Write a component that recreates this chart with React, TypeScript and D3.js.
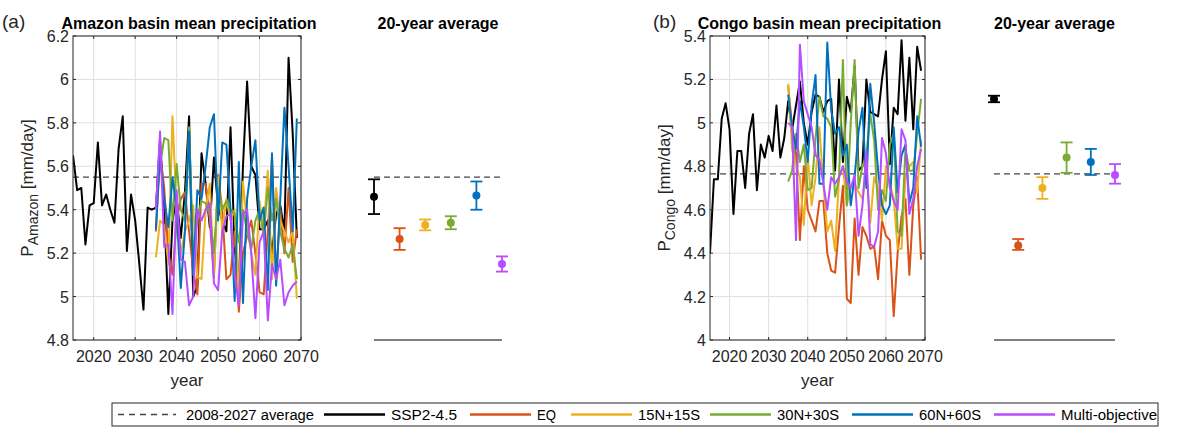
import React from "react";
import * as d3 from "d3";

const W = 1194;
const H = 429;

const colors = ["#000000", "#D95319", "#EDB120", "#77AC30", "#0072BD", "#B84CFF"];
const seriesNames = ["SSP2-4.5", "EQ", "15N+15S", "30N+30S", "60N+60S", "Multi-objective"];

const years = d3.range(2015, 2070);
const futureYears = d3.range(2035, 2070);

// Amazon
const amazonSSP = [5.65, 5.49, 5.5, 5.24, 5.42, 5.43, 5.71, 5.42, 5.47, 5.4, 5.34, 5.68, 5.83, 5.21, 5.47, 5.35, 5.15, 4.94, 5.41, 5.4, 5.41, 5.72, 5.4, 4.92, 5.35, 5.45, 5.27, 5.48, 5.83, 5.0, 5.05, 5.66, 5.52, 5.32, 5.64, 5.41, 5.35, 5.3, 5.78, 5.22, 5.05, 5.6, 5.99, 5.6, 5.56, 5.31, 5.31, 5.35, 5.2, 5.38, 5.42, 5.3, 6.1, 5.75, 5.27];
const amazonEQ = [5.3, 5.67, 5.5, 5.2, 5.1, 5.35, 5.45, 5.48, 5.3, 5.12, 5.01, 5.52, 5.52, 5.35, 5.09, 5.56, 5.4, 5.08, 5.1, 5.3, 4.93, 5.2, 5.28, 5.35, 5.2, 5.02, 5.01, 5.3, 5.64, 5.08, 5.4, 5.2, 5.5, 5.16, 5.31];
const amazon15 = [5.18, 5.35, 5.33, 5.15, 5.83, 5.4, 5.2, 5.3, 5.35, 5.42, 5.09, 5.08, 5.4, 5.52, 5.1, 5.55, 5.3, 5.45, 5.35, 5.4, 5.0, 5.53, 5.33, 5.2, 5.1, 5.44, 5.31, 5.58, 5.08, 5.5, 5.35, 5.3, 5.25, 5.3, 4.99];
const amazon30 = [5.42, 5.6, 5.73, 5.72, 5.35, 5.61, 5.4, 5.35, 5.78, 5.2, 5.36, 5.44, 5.43, 5.38, 5.2, 5.5, 5.4, 5.44, 5.4, 5.38, 5.25, 5.4, 5.3, 5.22, 5.35, 5.4, 5.28, 5.5, 5.35, 5.45, 5.3, 5.22, 5.18, 5.24, 5.08];
const amazon60 = [5.31, 5.66, 5.45, 5.32, 5.55, 5.4, 5.04, 5.3, 5.76, 5.1, 5.49, 5.45, 5.6, 5.78, 5.84, 5.35, 5.71, 5.7, 5.4, 4.98, 5.62, 4.97, 5.45, 5.6, 5.72, 5.35, 5.41, 5.03, 5.66, 5.05, 5.45, 5.87, 5.6, 5.3, 5.82];
const amazonMulti = [5.4, 5.76, 5.23, 5.24, 4.92, 5.49, 5.17, 5.16, 4.96, 5.0, 5.4, 5.35, 5.4, 5.43, 5.06, 5.03, 5.3, 5.37, 5.38, 5.1, 4.96, 5.38, 5.4, 5.2, 4.9, 5.25, 5.3, 4.89, 5.15, 5.08, 5.17, 4.96, 5.02, 5.05, 5.07];
const amazonMean = [5.46, 5.265, 5.33, 5.34, 5.465, 5.15];
const amazonLo = [5.38, 5.215, 5.305, 5.31, 5.4, 5.115];
const amazonHi = [5.54, 5.315, 5.355, 5.37, 5.53, 5.185];
const amazonRef = 5.55;

// Congo
const congoSSP = [4.4, 4.74, 4.74, 5.02, 5.09, 4.97, 4.58, 4.87, 4.87, 4.7, 4.95, 5.04, 4.69, 4.9, 4.84, 4.94, 4.87, 5.08, 4.84, 4.93, 5.1, 4.97, 5.08, 5.19, 5.0, 4.9, 5.05, 5.13, 5.12, 5.05, 5.1, 5.11, 4.78, 5.2, 4.82, 5.12, 5.05, 5.26, 4.78, 4.8, 5.2, 5.05, 5.04, 5.03, 5.2, 5.33, 4.81, 5.07, 5.04, 5.38, 5.01, 5.3, 4.97, 5.35, 5.24];
const congoEQ = [5.17, 4.98, 4.86, 4.46, 4.8, 4.6, 4.55, 4.5, 4.64, 4.64, 4.4, 4.32, 4.31, 4.52, 4.71, 4.19, 4.17, 4.56, 4.3, 4.52, 4.48, 4.42, 4.43, 4.28, 4.55, 4.48, 4.46, 4.11, 4.4, 4.57, 4.65, 4.3, 4.62, 4.75, 4.37];
const congo15 = [5.18, 4.88, 4.8, 4.75, 4.53, 4.85, 4.62, 4.75, 4.98, 4.72, 4.5, 4.55, 4.41, 4.75, 4.8, 4.62, 4.7, 4.72, 4.68, 4.65, 4.78, 4.54, 4.75, 4.7, 4.55, 4.8, 4.72, 4.65, 4.42, 4.42, 4.75, 4.8, 4.82, 4.68, 4.92];
const congo30 = [4.73, 4.78, 4.95, 4.82, 4.9, 4.69, 4.7, 4.93, 5.12, 5.03, 5.02, 4.98, 4.66, 4.74, 5.29, 4.62, 5.0, 5.29, 4.7, 4.8, 4.85, 5.04, 4.92, 4.6, 4.69, 4.64, 4.9, 4.95, 4.5, 4.48, 4.88, 4.78, 4.78, 4.95, 5.11];
const congo60 = [5.13, 4.98, 4.88, 5.1, 4.98, 4.82, 5.08, 5.22, 4.72, 4.72, 5.37, 5.06, 4.95, 4.98, 4.85, 4.9, 4.62, 4.75, 4.96, 5.07, 4.7, 5.18, 5.0, 4.78, 4.62, 4.58, 4.62, 4.98, 4.68, 4.85, 4.9, 4.63, 4.7, 5.03, 4.89];
const congoMulti = [5.0, 4.98, 4.46, 5.36, 5.1, 5.04, 4.98, 4.85, 4.83, 4.72, 4.6, 4.75, 4.72, 4.75, 4.8, 4.73, 4.7, 4.76, 4.48, 4.62, 4.87, 4.44, 4.43, 4.5, 4.93, 4.86, 4.7, 4.64, 4.6, 4.97, 4.92, 4.58, 4.65, 4.8, 4.88];
const congoMean = [5.11, 4.435, 4.7, 4.84, 4.82, 4.76];
const congoLo = [5.095, 4.415, 4.65, 4.77, 4.76, 4.72];
const congoHi = [5.125, 4.465, 4.75, 4.91, 4.88, 4.81];
const congoRef = 4.765;

const font = "Helvetica, 'Liberation Sans', Arial, sans-serif";
const tickCol = "#262626";

interface PanelProps {
  letter: string;
  title: string;
  sub: string;
  ssp: number[];
  futures: number[][];
  mean: number[];
  lo: number[];
  hi: number[];
  ref: number;
  yDomain: [number, number];
  yTicks: number[];
  x0: number;
  x1: number;
  ax0: number;
  ax1: number;
  lx: number;
}

const Panel: React.FC<PanelProps> = (p) => {
  const top = 36;
  const bottom = 340;
  const x = d3.scaleLinear().domain([2015, 2070]).range([p.x0, p.x1]);
  const y = d3.scaleLinear().domain(p.yDomain).range([bottom, top]);
  const ax = d3.scaleLinear().domain([0, 5]).range([p.ax0, p.ax1]);
  const line = d3.line<[number, number]>().x((d) => x(d[0])).y((d) => y(d[1]));
  const xTicks = [2020, 2030, 2040, 2050, 2060, 2070];
  const fmt = (v: number) => String(+v.toFixed(1));
  const allSeries = [p.ssp, ...p.futures];
  return (
    <g fontFamily={font}>
      <text x={p.lx} y={28} fontSize={19} fill={tickCol}>{p.letter}</text>
      <text x={(p.x0 + p.x1) / 2 + 2} y={29} fontSize={16} fontWeight="bold" textAnchor="middle" fill="#000">{p.title}</text>
      <text x={(p.ax0 + p.ax1) / 2} y={29} fontSize={16} fontWeight="bold" textAnchor="middle" fill="#000">20-year average</text>
      {xTicks.map((t) => (
        <line key={"gx" + t} x1={x(t)} x2={x(t)} y1={top} y2={bottom} stroke="#dfdfdf" strokeWidth={1} />
      ))}
      {p.yTicks.map((t) => (
        <line key={"gy" + t} x1={p.x0} x2={p.x1} y1={y(t)} y2={y(t)} stroke="#dfdfdf" strokeWidth={1} />
      ))}
      <line x1={p.x0} x2={p.x1} y1={y(p.ref)} y2={y(p.ref)} stroke="#444" strokeWidth={1.3} strokeDasharray="6,4" />
      <clipPath id={"clip" + p.sub}>
        <rect x={p.x0} y={top} width={p.x1 - p.x0} height={bottom - top} />
      </clipPath>
      <g clipPath={`url(#clip${p.sub})`}>
        {allSeries.map((s, i) => {
          const yrs = i === 0 ? years : futureYears;
          return (
            <path key={"s" + i} d={line(s.map((v, k) => [yrs[k], v]))!} fill="none" stroke={colors[i]} strokeWidth={2} strokeLinejoin="round" />
          );
        })}
      </g>
      <rect x={p.x0} y={top} width={p.x1 - p.x0} height={bottom - top} fill="none" stroke={tickCol} strokeWidth={1} />
      {xTicks.map((t) => (
        <g key={"tx" + t}>
          <line x1={x(t)} x2={x(t)} y1={bottom} y2={bottom - 3} stroke={tickCol} />
          <line x1={x(t)} x2={x(t)} y1={top} y2={top + 3} stroke={tickCol} />
          <text x={x(t)} y={bottom + 22} fontSize={16} textAnchor="middle" fill={tickCol}>{t}</text>
        </g>
      ))}
      {p.yTicks.map((t) => (
        <g key={"ty" + t}>
          <line x1={p.x0} x2={p.x0 + 3} y1={y(t)} y2={y(t)} stroke={tickCol} />
          <line x1={p.x1} x2={p.x1 - 3} y1={y(t)} y2={y(t)} stroke={tickCol} />
          <text x={p.x0 - 4} y={y(t) + 6} fontSize={16} textAnchor="end" fill={tickCol}>{fmt(t)}</text>
        </g>
      ))}
      <text x={(p.x0 + p.x1) / 2} y={bottom + 46} fontSize={17} textAnchor="middle" fill={tickCol}>year</text>
      <text transform={`translate(${p.x0 - 40},${(top + bottom) / 2}) rotate(-90)`} fontSize={17} textAnchor="middle" fill={tickCol}>
        P<tspan fontSize={14} dy={5}>{p.sub}</tspan><tspan dy={-5}> [mm/day]</tspan>
      </text>
      <line x1={p.ax0} x2={p.ax1} y1={bottom} y2={bottom} stroke="#000" strokeWidth={1} />
      <line x1={p.ax0} x2={p.ax1} y1={y(p.ref)} y2={y(p.ref)} stroke="#444" strokeWidth={1.3} strokeDasharray="6,4" />
      {p.mean.map((m, i) => (
        <g key={"a" + i} stroke={colors[i]} strokeWidth={1.8}>
          <line x1={ax(i)} x2={ax(i)} y1={y(p.lo[i])} y2={y(p.hi[i])} />
          <line x1={ax(i) - 6} x2={ax(i) + 6} y1={y(p.lo[i])} y2={y(p.lo[i])} />
          <line x1={ax(i) - 6} x2={ax(i) + 6} y1={y(p.hi[i])} y2={y(p.hi[i])} />
          <circle cx={ax(i)} cy={y(m)} r={4} fill={colors[i]} stroke="none" />
        </g>
      ))}
    </g>
  );
};

// legend: line start and text width per series
const legendX = [324, 470, 571, 710, 852, 994];
const legendW = [66, 19, 62, 62, 62, 96];

const App: React.FC = () => (
  <svg width={W} height={H} style={{ position: "absolute", left: 0, top: 0 }}>
    <rect width={W} height={H} fill="#fff" />
    <Panel letter="(a)" title="Amazon basin mean precipitation" sub="Amazon" ssp={amazonSSP}
      futures={[amazonEQ, amazon15, amazon30, amazon60, amazonMulti]} mean={amazonMean} lo={amazonLo} hi={amazonHi}
      ref={amazonRef} yDomain={[4.8, 6.2]} yTicks={d3.range(4.8, 6.21, 0.2)} x0={73} x1={301} ax0={374} ax1={502} lx={2} />
    <Panel letter="(b)" title="Congo basin mean precipitation" sub="Congo" ssp={congoSSP}
      futures={[congoEQ, congo15, congo30, congo60, congoMulti]} mean={congoMean} lo={congoLo} hi={congoHi}
      ref={congoRef} yDomain={[4, 5.4]} yTicks={d3.range(4, 5.41, 0.2)} x0={710} x1={925} ax0={994} ax1={1115} lx={653} />
    <g fontFamily={font} fontSize={14} fill="#000">
      <rect x={112} y={403} width={1046} height={23} fill="#fff" stroke="#262626" strokeWidth={1} />
      <line x1={118} x2={176} y1={414.5} y2={414.5} stroke="#444" strokeWidth={1.3} strokeDasharray="6,5" />
      <text x={186} y={419.5} textLength={128} lengthAdjust="spacingAndGlyphs">2008-2027 average</text>
      {seriesNames.map((n, i) => (
        <g key={n}>
          <line x1={legendX[i]} x2={legendX[i] + 61} y1={414.5} y2={414.5} stroke={colors[i]} strokeWidth={2.5} />
          <text x={legendX[i] + 67} y={419.5} textLength={legendW[i]} lengthAdjust="spacingAndGlyphs">{n}</text>
        </g>
      ))}
    </g>
  </svg>
);

export default App;
